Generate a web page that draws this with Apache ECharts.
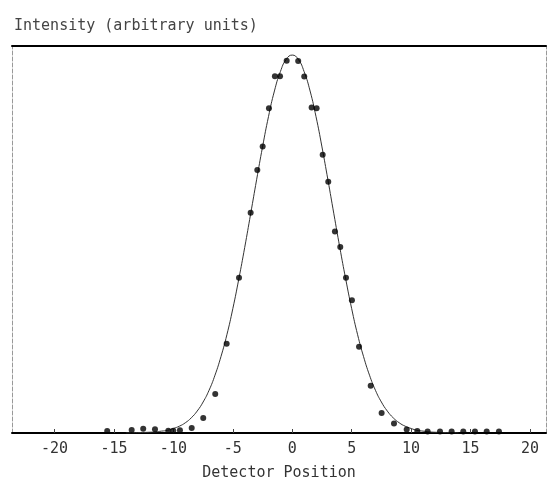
<!DOCTYPE html>
<html>
<head>
<meta charset="utf-8">
<script src="https://cdn.jsdelivr.net/npm/echarts@6/dist/echarts.min.js"></script>
<style>
    html, body { margin: 0; padding: 0; background: #fff; }
    #chart { width: 548px; height: 490px; }
</style>
</head>
<body>
<div id="chart"></div>
<script>
// tick labels on the detector axis
let xTicks = [-20, -15, -10, -5, 0, 5, 10, 15, 20];

// measured points (detector position, intensity)
let pointX = [-15.57, -13.51, -12.54, -11.55, -10.43, -10.01, -9.45, -8.46, -7.49, -6.48,
    -5.52, -4.48, -3.50, -2.94, -2.49, -1.96, -1.46, -1.03, -0.47, 0.50,
    1.01, 1.63, 2.05, 2.56, 3.03, 3.59, 4.04, 4.52, 5.02, 5.62,
    6.60, 7.52, 8.56, 9.63, 10.52, 11.39, 12.43, 13.41, 14.39, 15.37,
    16.36, 17.39];
let pointY = [0.005, 0.008, 0.011, 0.010, 0.006, 0.006, 0.007, 0.013, 0.040, 0.103,
    0.236, 0.411, 0.583, 0.696, 0.758, 0.859, 0.944, 0.944, 0.985, 0.984,
    0.943, 0.861, 0.859, 0.736, 0.665, 0.533, 0.492, 0.411, 0.351, 0.228,
    0.125, 0.053, 0.025, 0.009, 0.005, 0.004, 0.004, 0.004, 0.004, 0.004,
    0.004, 0.004];

// fitted curve
let curveX = [-14, -13, -12, -11.5, -11, -10.5, -10, -9.5, -9, -8.5, -8, -7.5, -7, -6.5, -6,
    -5.5, -5, -4.5, -4, -3.5, -3, -2.5, -2, -1.5, -1, -0.5, 0,
    0.5, 1, 1.5, 2, 2.5, 3, 3.5, 4, 4.5, 5, 5.5, 6, 6.5, 7,
    7.5, 8, 8.5, 9, 9.5, 10, 10.5, 11, 11.5, 12, 13, 14];
let curveY = [0, 0.001, 0.002, 0.003, 0.005, 0.007, 0.012, 0.018, 0.027, 0.040, 0.058, 0.082, 0.113, 0.153, 0.202,
    0.260, 0.329, 0.407, 0.491, 0.580, 0.670, 0.757, 0.837, 0.905, 0.956, 0.989, 1.000,
    0.989, 0.956, 0.905, 0.837, 0.757, 0.670, 0.580, 0.491, 0.407, 0.329, 0.260, 0.202, 0.153, 0.113,
    0.082, 0.058, 0.040, 0.027, 0.018, 0.012, 0.007, 0.005, 0.003, 0.002, 0.001, 0];

function pairs(xs, ys) {
    let out = [];
    for (let i = 0; i < xs.length; i++) {
        out.push([xs[i], ys[i]]);
    }
    return out;
}

let chart = echarts.init(document.getElementById('chart'));
let fontFamily = 'DejaVu Sans Mono';

let option = {
    animation: false,
    backgroundColor: '#ffffff',
    title: {
        text: 'Intensity (arbitrary units)',
        left: 9,
        top: 14,
        textStyle: {
            fontFamily: fontFamily,
            fontSize: 15,
            fontWeight: 'normal',
            color: '#444'
        }
    },
    grid: {
        left: 12,
        right: 2,
        top: 46,
        bottom: 57
    },
    xAxis: [
        {
            type: 'value',
            min: -23.58,
            max: 21.35,
            name: 'Detector Position',
            nameLocation: 'middle',
            nameGap: 33,
            nameTextStyle: {
                fontFamily: fontFamily,
                fontSize: 15,
                color: '#333'
            },
            axisLine: {
                onZero: false,
                lineStyle: { color: '#000', width: 2 }
            },
            axisTick: {
                inside: true,
                length: 4,
                customValues: xTicks,
                lineStyle: { color: '#444' }
            },
            axisLabel: {
                customValues: xTicks,
                margin: 9,
                fontFamily: fontFamily,
                fontSize: 15,
                color: '#333'
            },
            splitLine: { show: false }
        },
        {
            type: 'value',
            position: 'top',
            min: -23.58,
            max: 21.35,
            axisLine: {
                onZero: false,
                lineStyle: { color: '#000', width: 2 }
            },
            axisTick: { show: false },
            axisLabel: { show: false },
            splitLine: { show: false }
        }
    ],
    yAxis: [
        {
            type: 'value',
            min: 0,
            max: 1.024,
            axisLine: {
                show: true,
                onZero: false,
                lineStyle: { color: '#999', type: 'dashed' }
            },
            axisTick: { show: false },
            axisLabel: { show: false },
            splitLine: { show: false }
        },
        {
            type: 'value',
            position: 'right',
            min: 0,
            max: 1.024,
            axisLine: {
                show: true,
                onZero: false,
                lineStyle: { color: '#999', type: 'dashed' }
            },
            axisTick: { show: false },
            axisLabel: { show: false },
            splitLine: { show: false }
        }
    ],
    series: [
        {
            name: 'Fit',
            type: 'line',
            data: pairs(curveX, curveY),
            smooth: true,
            showSymbol: false,
            lineStyle: { color: '#333', width: 1 },
            z: 2
        },
        {
            name: 'Data',
            type: 'scatter',
            data: pairs(pointX, pointY),
            symbolSize: 6,
            itemStyle: { color: '#000' },
            z: 3
        }
    ]
};

chart.setOption(option);
</script>
</body>
</html>
